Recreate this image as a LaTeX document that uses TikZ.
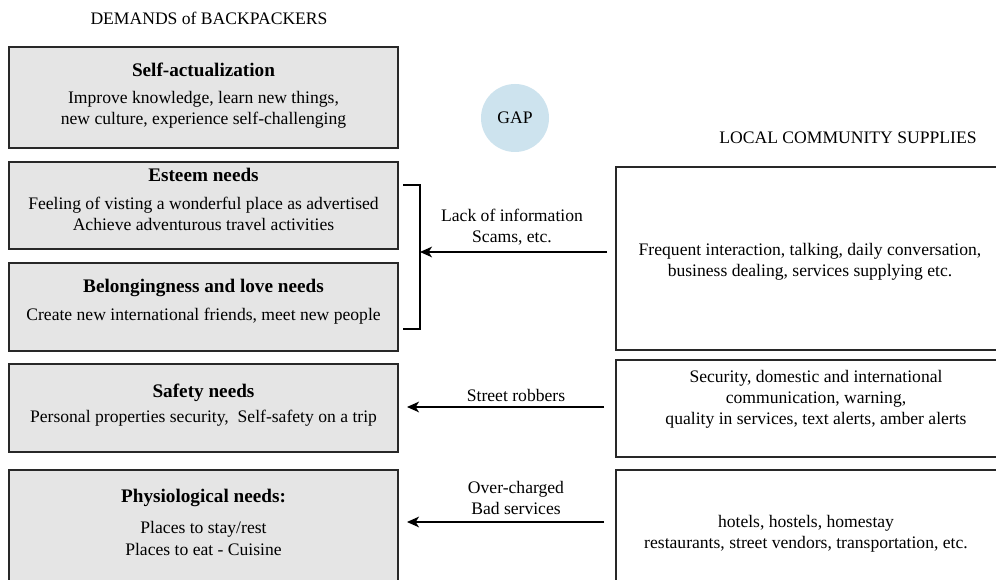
\documentclass[tikz,border=0pt]{standalone}
\usepackage{fontspec}
\setmainfont{Liberation Serif}
\usetikzlibrary{arrows.meta}
\definecolor{needfill}{RGB}{229,229,229}
\definecolor{gapblue}{RGB}{205,227,238}
\definecolor{edge}{RGB}{40,40,40}
\begin{document}
\begin{tikzpicture}[x=0.75pt,y=-0.75pt,
  needbox/.style={draw=edge,line width=1.2pt,fill=needfill},
  supplybox/.style={draw=edge,line width=1.2pt,fill=white},
  txt/.style={font=\fontsize{13.2}{15.8}\selectfont,align=center,inner sep=0pt},
  ttl/.style={font=\bfseries\fontsize{14.4}{16}\selectfont,inner sep=0pt},
  heading/.style={font=\fontsize{13.2}{15}\selectfont,inner sep=0pt},
  link/.style={line width=1pt,-{Stealth[length=9pt,width=8pt,inset=2.5pt]}},
  bracketline/.style={line width=1pt}]
\clip (0,0) rectangle (996,580);
\fill[white] (0,0) rectangle (996,580);

% headings
\node[heading] (hdemand) at (209,18) {DEMANDS of BACKPACKERS};
\node[heading] (hsupply) at (848,138) {LOCAL COMMUNITY SUPPLIES};

% gap marker
\node[circle,fill=gapblue,minimum size=68pt*0.75,inner sep=0pt,
      font=\fontsize{13.2}{15}\selectfont] (gap) at (515,118) {GAP};

% demand side: hierarchy of needs
\draw[needbox] (9,47) rectangle (398,148);
\node[ttl] (selfT) at (203.5,70) {Self-actualization};
\node[txt] (selfB) at (203.5,109.5) {Improve knowledge, learn new things,\\new culture, experience self-challenging};

\draw[needbox] (9,162) rectangle (398,249);
\node[ttl] (estT) at (203.5,175) {Esteem needs};
\node[txt] (estB) at (203.5,213.5) {Feeling of visting a wonderful place as advertised\\Achieve adventurous travel activities};

\draw[needbox] (9,263) rectangle (398,351);
\node[ttl] (belT) at (203.5,288) {Belongingness and love needs};
\node[txt] (belB) at (203.5,316) {Create new international friends, meet new people};

\draw[needbox] (9,364) rectangle (398,452);
\node[ttl] (safT) at (203.5,393) {Safety needs};
\node[txt] (safB) at (203.5,418) {Personal properties security,\ \ Self-safety on a trip};

\draw[needbox] (9,470) rectangle (398,600);
\node[ttl] (phyT) at (203.5,498) {Physiological needs:};
\node[txt] (phyB) at (203.5,538.5) {Places to stay/rest\\Places to eat - Cuisine};

% supply side
\draw[supplybox] (616,167) rectangle (1010,350);
\node[txt] (supA) at (810,262) {Frequent interaction, talking, daily conversation,\\business dealing, services supplying etc.};
\coordinate (supAin) at (607,252);

\draw[supplybox] (616,360) rectangle (1010,457);
\node[txt] (supB) at (816,399) {Security, domestic and international\\communication, warning,\\ quality in services, text alerts, amber alerts};
\coordinate (supBin) at (604,407);

\draw[supplybox] (616,470) rectangle (1010,600);
\node[txt] (supC) at (806,534) {hotels, hostels, homestay\\restaurants, street vendors, transportation, etc.};
\coordinate (supCin) at (604,522);

% bracket grouping esteem and belonging needs
\coordinate (brTop) at (403,185);
\coordinate (brBot) at (403,329);
\coordinate (brMid) at (420,252);
\draw[bracketline] (brTop) -| (brMid) |- (brBot);

% gaps between supply and demand
\coordinate (safIn) at (407,407);
\coordinate (phyIn) at (407,522);
\draw[link] (supAin) -- (brMid);
\draw[link] (supBin) -- (safIn);
\draw[link] (supCin) -- (phyIn);

\node[txt] (gapA) at (512,227) {Lack of information\\Scams, etc.};
\node[txt] (gapB) at (516,395) {Street robbers};
\node[txt] (gapC) at (516,498) {Over-charged\\Bad services};
\end{tikzpicture}
\end{document}
